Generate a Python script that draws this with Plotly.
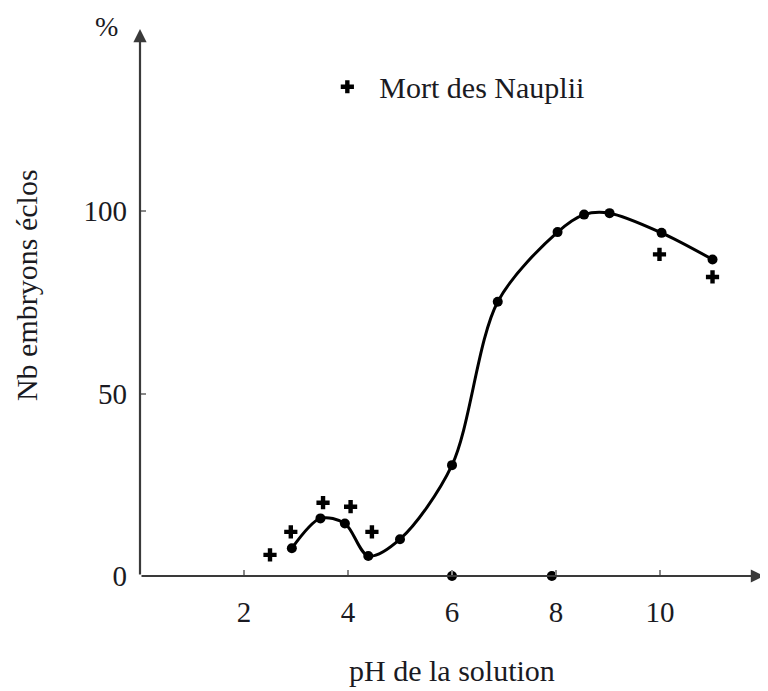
import plotly.graph_objects as go

# Nb embryons éclos (circles, smooth curve)
ph_eclos = [2.92, 3.47, 3.94, 4.39, 5.0, 6.0, 6.88, 8.03, 8.54, 9.03, 10.03, 11.01]
eclos = [7.6, 15.8, 14.4, 5.5, 10.1, 30.4, 75.2, 94.3, 99.1, 99.5, 94.1, 86.8]

# Mort des Nauplii (plus markers)
ph_nauplii = [2.5, 2.9, 3.52, 4.05, 4.46, 9.99, 11.01]
nauplii = [5.8, 12.1, 20.1, 19.0, 12.1, 88.2, 82.0]

# circles lying on the x axis
ph_zero = [6.0, 7.92]
zero_vals = [0, 0]

x_ticks = [2, 4, 6, 8, 10]
y_ticks = [0, 50, 100]

FONT = "Liberation Serif"
TXT = "#1a1a22"
AX = "#3a3a3a"

fig = go.Figure()
fig.add_trace(go.Scatter(
    x=ph_eclos, y=eclos, mode="lines+markers",
    line=dict(color="black", width=3, shape="spline", smoothing=0.9),
    marker=dict(symbol="circle", size=10, color="black"),
    showlegend=False, cliponaxis=False))
fig.add_trace(go.Scatter(
    x=ph_zero, y=zero_vals, mode="markers",
    marker=dict(symbol="circle", size=10, color="black"),
    showlegend=False, cliponaxis=False))
fig.add_trace(go.Scatter(
    x=ph_nauplii, y=nauplii, mode="markers", name="Mort des Nauplii",
    marker=dict(symbol="cross", size=11, color="black"),
    showlegend=True, cliponaxis=False))

# axis arrows
fig.add_annotation(x=12.0, y=0, ax=0, ay=0, xref="x", yref="y", axref="x", ayref="y",
                   text="", showarrow=True, arrowhead=2, arrowsize=1.2, arrowwidth=2.2,
                   arrowcolor=AX)
fig.add_annotation(x=0, y=150, ax=0, ay=0, xref="x", yref="y", axref="x", ayref="y",
                   text="", showarrow=True, arrowhead=2, arrowsize=1.2, arrowwidth=2.2,
                   arrowcolor=AX)

fig.add_annotation(text="%", xref="paper", yref="paper", x=-0.053, y=1.0037,
                   xanchor="center", yanchor="middle",
                   showarrow=False, font=dict(family=FONT, size=28, color=TXT))
fig.add_annotation(text="Nb embryons éclos", xref="paper", yref="paper", x=-0.181, y=0.532,
                   xanchor="center", yanchor="middle",
                   textangle=-90, showarrow=False, font=dict(family=FONT, size=30, color=TXT))
fig.add_annotation(text="pH de la solution", xref="paper", yref="paper", x=0.5, y=-0.172,
                   xanchor="center", yanchor="middle",
                   showarrow=False, font=dict(family=FONT, size=30, color=TXT))

fig.update_layout(
    width=760, height=683,
    margin=dict(l=132, r=4, t=21, b=115),
    paper_bgcolor="white", plot_bgcolor="white",
    font=dict(family=FONT, size=29, color=TXT),
    legend=dict(x=0.281, y=0.942, xanchor="left", yanchor="top", itemwidth=54,
                bgcolor="rgba(0,0,0,0)", font=dict(family=FONT, size=30, color=TXT)),
    xaxis=dict(range=[0, 12.0], tickvals=x_ticks, ticktext=[str(v) for v in x_ticks],
               showgrid=False, zeroline=False, showline=False,
               ticks="inside", ticklen=6, tickwidth=2, tickcolor="#888",
               ticklabelstandoff=16),
    yaxis=dict(range=[0, 150], tickvals=y_ticks, ticktext=[str(v) for v in y_ticks],
               showgrid=False, zeroline=False, showline=False,
               ticks="inside", ticklen=6, tickwidth=2, tickcolor="#888",
               ticklabelstandoff=12),
)

fig.write_html("out.html")
